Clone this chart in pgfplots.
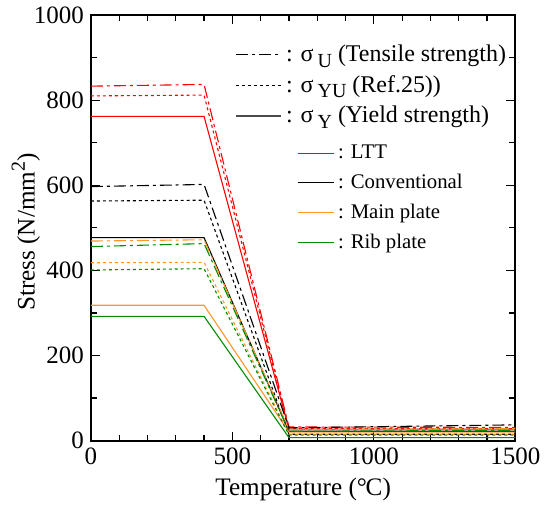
\documentclass[border=0pt]{standalone}
\usepackage{pgfplots}
\pgfplotsset{compat=1.18}
\usepackage{fontspec}
\setmainfont{Liberation Serif}
\definecolor{cltt}{RGB}{255,0,0}
\definecolor{cconv}{RGB}{0,0,0}
\definecolor{cmain}{RGB}{255,150,40}
\definecolor{crib}{RGB}{0,140,0}
\tikzset{
  ddot/.style={dash pattern=on 6pt off 2pt on 1.5pt off 2pt},
  dotl/.style={dash pattern=on 1.5pt off 1.5pt},
}
\newcommand{\sub}[1]{\,\raisebox{-0.5ex}{\fontsize{10}{10}\selectfont #1}}
\begin{document}
\begin{tikzpicture}
\pgfplotsset{every axis/.append style={
  scale only axis, width=212.5pt, height=213pt,
  xmin=0, xmax=1500, ymin=0, ymax=1000}}
\begin{axis}[
  clip=false,
  /pgf/number format/assume math mode=true,
  ticklabel style={font=\fontsize{12.5}{14}\selectfont},
  label style={font=\fontsize{12.6}{14}\selectfont},
  xtick={0,500,1000,1500}, ytick={0,200,400,600,800,1000},
  minor xtick={100,200,...,1400}, minor ytick={100,300,...,900},
  tick align=inside, major tick length=4.5pt, minor tick length=3pt,
  tick style={black, line width=0.6pt},
  axis line style={line width=1.1pt},
  scaled ticks=false,
  xticklabel style={/pgf/number format/1000 sep={}},
  yticklabel style={/pgf/number format/1000 sep={}},
  xlabel={Temperature (°\kern-0.05em C)},
  ylabel={Stress (N/mm\raisebox{0.85ex}{\fontsize{10}{10}\selectfont 2})},
  xlabel style={at={(axis description cs:0.5,-0.115)}, anchor=center},
  ylabel style={at={(axis description cs:-0.153,0.49)}, anchor=center, rotate=0},
  extra description/.code={\path (axis description cs:-0.214,-0.169) rectangle (axis description cs:1.073,1.035);},
  legend image code/.code={\draw[#1] (0pt,0pt) -- (22.5pt,0pt);},
  legend style={at={(0.335,0.945)}, anchor=north west, draw=none, fill=none,
    font=\fontsize{12}{14}\selectfont, row sep=1.5pt, inner sep=1pt},
  legend cell align=left,
  every axis plot/.append style={line width=0.55pt},
]
\addlegendimage{black, line width=0.6pt, ddot}
\addlegendentry{: σ\sub{U} (Tensile strength)}
\addlegendimage{black, line width=0.6pt, dotl}
\addlegendentry{: σ\sub{YU} (Ref.25))}
\addlegendimage{black!70, line width=0.8pt}
\addlegendentry{: σ\sub{Y} (Yield strength)}
% LTT
\addplot[cltt, ddot, forget plot] coordinates {(0,833) (400,837) (700,32) (1500,31)};
\addplot[cltt, dotl, forget plot] coordinates {(0,810) (400,812) (700,28) (1500,28)};
\addplot[cltt, forget plot] coordinates {(0,762) (400,762) (700,27) (1500,27)};
% Conventional
\addplot[cconv, ddot, forget plot] coordinates {(0,597) (400,602) (700,30) (1500,37)};
\addplot[cconv, dotl, forget plot] coordinates {(0,563) (400,565) (700,15) (1500,15)};
\addplot[cconv, forget plot] coordinates {(0,477) (400,477) (700,22) (1500,22)};
% Main plate
\addplot[cmain, ddot, forget plot] coordinates {(0,469) (400,472) (700,26) (1500,28)};
\addplot[cmain, dotl, forget plot] coordinates {(0,418) (400,419) (700,15) (1500,15)};
\addplot[cmain, forget plot] coordinates {(0,318) (400,318) (700,20) (1500,20)};
% Rib plate
\addplot[crib, ddot, forget plot] coordinates {(0,456) (400,463) (700,22) (1500,24)};
\addplot[crib, dotl, forget plot] coordinates {(0,401) (400,404) (700,13) (1500,13)};
\addplot[crib, forget plot] coordinates {(0,292) (400,292) (700,7) (1500,7)};
\end{axis}
\begin{axis}[
  hide axis,
  legend image code/.code={\draw[#1] (0pt,0pt) -- (18pt,0pt);},
  legend style={at={(0.48,0.71)}, anchor=north west, draw=none, fill=none,
    font=\fontsize{10.4}{12}\selectfont, row sep=2.3pt, inner sep=1pt},
  legend cell align=left,
]
\addlegendimage{cltt, line width=0.55pt}
\addlegendentry{: LTT}
\addlegendimage{cconv, line width=0.55pt}
\addlegendentry{: Conventional}
\addlegendimage{cmain, line width=0.55pt}
\addlegendentry{: Main plate}
\addlegendimage{crib, line width=0.55pt}
\addlegendentry{: Rib plate}
\end{axis}
\end{tikzpicture}
\end{document}
